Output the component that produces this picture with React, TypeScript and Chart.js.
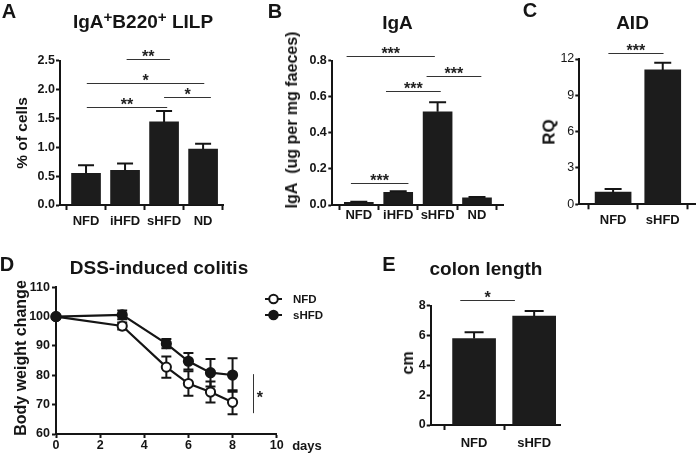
import React, { useEffect, useRef } from 'react';
import { Chart, registerables } from 'chart.js';
Chart.register(...registerables);

const FONT = "'Liberation Sans', Arial, Helvetica, sans-serif";
const INK = '#151515';

// ---------- Panel A: IgA+B220+ LILP ----------
const catsA = ['NFD', 'iHFD', 'sHFD', 'ND'];
const valsA = [0.55, 0.6, 1.44, 0.97];
const errsA = [0.14, 0.12, 0.19, 0.09];
const yTicksA = [0, 0.5, 1.0, 1.5, 2.0, 2.5];
const sigA: [number, number, number, string][] = [
  [2.04, 3.15, 2.525, '**'],
  [1.02, 4.03, 2.12, '*'],
  [3.0, 4.2, 1.87, '*'],
  [1.02, 3.08, 1.7, '**'],
];

// ---------- Panel B: IgA ----------
const catsB = ['NFD', 'iHFD', 'sHFD', 'ND'];
const valsB = [0.015, 0.07, 0.517, 0.04];
const errsB = [0.003, 0.006, 0.052, 0.005];
const yTicksB = [0, 0.2, 0.4, 0.6, 0.8];
const sigB: [number, number, number, string][] = [
  [0.69, 2.93, 0.826, '***'],
  [2.72, 4.11, 0.717, '***'],
  [1.69, 3.08, 0.63, '***'],
  [0.8, 2.26, 0.124, '***'],
];

// ---------- Panel C: AID ----------
const catsC = ['NFD', 'sHFD'];
const valsC = [1.0, 11.1];
const errsC = [0.26, 0.6];
const yTicksC = [0, 3, 6, 9, 12];
const sigC: [number, number, number, string][] = [[0.905, 2.016, 12.5, '***']];

// ---------- Panel D: DSS-induced colitis ----------
const daysD = [0, 3, 5, 6, 7, 8];
const nfdD = [100, 96.8, 82.8, 77.2, 74.3, 70.8];
const nfdErrD = [0, 1.2, 3.6, 4.2, 3.6, 4.1];
const shfdD = [100, 100.6, 90.8, 84.8, 80.9, 80.1];
const shfdErrD = [0, 1.5, 1.6, 2.8, 4.7, 5.7];
const xTicksD = [0, 2, 4, 6, 8, 10];
const yTicksD = [60, 70, 80, 90, 100, 110];
const seriesNamesD = ['NFD', 'sHFD'];
const sigD = { x: 8.94, y1: 80.4, y2: 67.1, starX: 9.24, starY: 73.6, text: '*' };

// ---------- Panel E: colon length ----------
const catsE = ['NFD', 'sHFD'];
const valsE = [5.8, 7.3];
const errsE = [0.42, 0.35];
const yTicksE = [0, 2, 4, 6, 8];
const sigE: [number, number, number, string][] = [[0.77, 1.68, 8.36, '*']];

type Area = { l: number; r: number; t: number; b: number };
type BarSpec = {
  cats: string[]; vals: number[]; errs: number[]; yTicks: number[];
  sig: [number, number, number, string][];
  yMax: number; xMin: number; xMax: number; area: Area;
  barW: number; capW: number; decimals: number; tickWeight: string;
  yPad: number; xPad: number; xh: number;
};

const W = 696, H = 455, YW = 40;
const STAR_FONT = `bold 16px ${FONT}`;

function pad(a: Area, xh: number) {
  return { left: a.l - YW, right: W - a.r, top: a.t, bottom: H - a.b - xh };
}

function makeBar(canvas: HTMLCanvasElement, s: BarSpec) {
  const extras = {
    id: 'extras',
    afterDatasetsDraw(chart: any) {
      const { ctx } = chart;
      const x = chart.scales.x, y = chart.scales.y;
      ctx.save();
      ctx.strokeStyle = INK;
      ctx.lineWidth = 2;
      s.vals.forEach((v, i) => {
        const px = x.getPixelForValue(i + 1);
        const top = y.getPixelForValue(v);
        const e = y.getPixelForValue(v + s.errs[i]);
        ctx.beginPath();
        ctx.moveTo(px, top);
        ctx.lineTo(px, e);
        ctx.moveTo(px - s.capW / 2, e);
        ctx.lineTo(px + s.capW / 2, e);
        ctx.stroke();
      });
      ctx.lineWidth = 1;
      ctx.strokeStyle = '#333';
      ctx.fillStyle = '#222';
      ctx.font = STAR_FONT;
      ctx.textAlign = 'center';
      ctx.textBaseline = 'alphabetic';
      s.sig.forEach(([a, b, yy, t]) => {
        const py = Math.round(y.getPixelForValue(yy)) + 0.5;
        const pa = x.getPixelForValue(a), pb = x.getPixelForValue(b);
        ctx.beginPath();
        ctx.moveTo(pa, py);
        ctx.lineTo(pb, py);
        ctx.stroke();
        ctx.fillText(t, (pa + pb) / 2, py + 2);
      });
      ctx.restore();
    },
  };
  return new Chart(canvas, {
    type: 'bar',
    data: {
      datasets: [{
        data: s.vals.map((v, i) => ({ x: i + 1, y: v })),
        backgroundColor: '#1c1c1c',
        borderWidth: 0,
        barThickness: s.barW,
      } as any],
    },
    options: {
      responsive: false,
      animation: false,
      devicePixelRatio: 1,
      layout: { padding: pad(s.area, s.xh) },
      plugins: { legend: { display: false }, tooltip: { enabled: false } },
      scales: {
        x: {
          type: 'linear', min: s.xMin, max: s.xMax, offset: false,
          afterBuildTicks: (sc: any) => { sc.ticks = s.cats.map((_, i) => ({ value: i + 1 })); },
          afterFit: (sc: any) => { sc.height = s.xh; },
          ticks: {
            autoSkip: false, maxRotation: 0, padding: s.xPad, color: INK,
            font: { family: FONT, size: 13, weight: 'bold' },
            callback: (v: any) => s.cats[Math.round(Number(v)) - 1] ?? '',
          },
          grid: { display: true, drawOnChartArea: false, drawTicks: true, tickLength: 5, tickWidth: 2, tickColor: INK },
          border: { display: true, color: INK, width: 2 },
        },
        y: {
          type: 'linear', min: 0, max: s.yMax,
          afterBuildTicks: (sc: any) => { sc.ticks = s.yTicks.map(v => ({ value: v })); },
          afterFit: (sc: any) => { sc.width = YW; },
          ticks: {
            padding: s.yPad, color: INK,
            font: { family: FONT, size: 12.5, weight: s.tickWeight },
            callback: (v: any) => Number(v).toFixed(s.decimals),
          },
          grid: { display: true, drawOnChartArea: false, drawTicks: true, tickLength: 4, tickWidth: 2, tickColor: INK },
          border: { display: true, color: INK, width: 2 },
        },
      },
    } as any,
    plugins: [extras],
  });
}

function makeLine(canvas: HTMLCanvasElement) {
  const area: Area = { l: 56, r: 276.7, t: 287.3, b: 434 };
  const xh = 21;
  const extras = {
    id: 'extrasD',
    beforeDatasetsDraw(chart: any) {
      const { ctx } = chart;
      const x = chart.scales.x, y = chart.scales.y;
      ctx.save();
      ctx.strokeStyle = INK;
      ctx.lineWidth = 2;
      const draw = (vals: number[], errs: number[]) => {
        vals.forEach((v, i) => {
          if (!errs[i]) return;
          const px = x.getPixelForValue(daysD[i]);
          const a = y.getPixelForValue(v + errs[i]);
          const b = y.getPixelForValue(v - errs[i]);
          ctx.beginPath();
          ctx.moveTo(px, a); ctx.lineTo(px, b);
          ctx.moveTo(px - 5, a); ctx.lineTo(px + 5, a);
          ctx.moveTo(px - 5, b); ctx.lineTo(px + 5, b);
          ctx.stroke();
        });
      };
      draw(nfdD, nfdErrD);
      draw(shfdD, shfdErrD);
      ctx.restore();
    },
    afterDraw(chart: any) {
      const { ctx } = chart;
      const x = chart.scales.x, y = chart.scales.y;
      ctx.save();
      const sx = Math.round(x.getPixelForValue(sigD.x)) + 0.5;
      ctx.strokeStyle = '#333';
      ctx.lineWidth = 1;
      ctx.beginPath();
      ctx.moveTo(sx, y.getPixelForValue(sigD.y1));
      ctx.lineTo(sx, y.getPixelForValue(sigD.y2));
      ctx.stroke();
      ctx.fillStyle = '#222';
      ctx.font = STAR_FONT;
      ctx.textAlign = 'center';
      ctx.textBaseline = 'alphabetic';
      ctx.fillText(sigD.text, x.getPixelForValue(sigD.starX), y.getPixelForValue(sigD.starY) + 9);
      const rows = [299, 315];
      seriesNamesD.forEach((name, i) => {
        const yy = rows[i];
        ctx.strokeStyle = INK;
        ctx.lineWidth = 2;
        ctx.beginPath();
        ctx.moveTo(265, yy); ctx.lineTo(282, yy);
        ctx.stroke();
        ctx.beginPath();
        ctx.arc(273.5, yy, 4.3, 0, Math.PI * 2);
        ctx.fillStyle = i === 0 ? '#fff' : INK;
        ctx.fill();
        ctx.stroke();
        ctx.fillStyle = INK;
        ctx.font = `bold 11.5px ${FONT}`;
        ctx.textAlign = 'left';
        ctx.textBaseline = 'middle';
        ctx.fillText(name, 293, yy + 0.5);
      });
      ctx.restore();
    },
  };
  const common = {
    borderColor: INK, borderWidth: 2.2, pointBorderColor: INK, pointBorderWidth: 2,
    pointRadius: 4.6, tension: 0, clip: false,
  };
  return new Chart(canvas, {
    type: 'line',
    data: {
      datasets: [
        { ...common, label: seriesNamesD[0], data: daysD.map((d, i) => ({ x: d, y: nfdD[i] })), pointBackgroundColor: '#fff', backgroundColor: '#fff', order: 2 },
        { ...common, label: seriesNamesD[1], data: daysD.map((d, i) => ({ x: d, y: shfdD[i] })), pointBackgroundColor: INK, backgroundColor: INK, order: 1 },
      ],
    },
    options: {
      responsive: false,
      animation: false,
      devicePixelRatio: 1,
      layout: { padding: pad(area, xh) },
      plugins: { legend: { display: false }, tooltip: { enabled: false } },
      scales: {
        x: {
          type: 'linear', min: 0, max: 10,
          afterBuildTicks: (sc: any) => { sc.ticks = xTicksD.map(v => ({ value: v })); },
          afterFit: (sc: any) => { sc.height = xh; },
          ticks: { autoSkip: false, maxRotation: 0, padding: 0, color: INK, font: { family: FONT, size: 12.5, weight: 'bold' } },
          grid: { display: true, drawOnChartArea: false, drawTicks: true, tickLength: 4, tickWidth: 2, tickColor: INK },
          border: { display: true, color: INK, width: 2 },
        },
        y: {
          type: 'linear', min: 60, max: 110,
          afterBuildTicks: (sc: any) => { sc.ticks = yTicksD.map(v => ({ value: v })); },
          afterFit: (sc: any) => { sc.width = YW; },
          ticks: { padding: 2, color: INK, font: { family: FONT, size: 12.5, weight: 'bold' } },
          grid: { display: true, drawOnChartArea: false, drawTicks: true, tickLength: 4, tickWidth: 2, tickColor: INK },
          border: { display: true, color: INK, width: 2 },
        },
      },
    } as any,
    plugins: [extras],
  });
}

const specA: BarSpec = {
  cats: catsA, vals: valsA, errs: errsA, yTicks: yTicksA, sig: sigA,
  yMax: 2.5, xMin: 0.333, xMax: 4.51, area: { l: 60, r: 223, t: 60.7, b: 205 },
  barW: 29, capW: 16, decimals: 1, tickWeight: 'bold', yPad: 1, xPad: 4, xh: 40,
};
const specB: BarSpec = {
  cats: catsB, vals: valsB, errs: errsB, yTicks: yTicksB, sig: sigB,
  yMax: 0.8, xMin: 0.327, xMax: 4.66, area: { l: 332.3, r: 503, t: 60.7, b: 205 },
  barW: 29, capW: 17, decimals: 1, tickWeight: 'bold', yPad: 1.5, xPad: -2, xh: 40,
};
const specC: BarSpec = {
  cats: catsC, vals: valsC, errs: errsC, yTicks: yTicksC, sig: sigC,
  yMax: 12, xMin: 0.319, xMax: 2.66, area: { l: 579.3, r: 695.5, t: 59, b: 204.3 },
  barW: 36, capW: 17, decimals: 0, tickWeight: 'normal', yPad: 1, xPad: 3, xh: 40,
};
const specE: BarSpec = {
  cats: catsE, vals: valsE, errs: errsE, yTicks: yTicksE, sig: sigE,
  yMax: 8, xMin: 0.278, xMax: 2.43, area: { l: 430.7, r: 560, t: 305.7, b: 425 },
  barW: 43, capW: 19, decimals: 0, tickWeight: 'bold', yPad: 1, xPad: 6, xh: 30,
};

const textBase: React.CSSProperties = {
  position: 'absolute', whiteSpace: 'nowrap', lineHeight: 1, fontWeight: 'bold', color: INK,
  fontFamily: FONT,
};

function T({ x, y, size, rot, children }: { x: number; y: number; size: number; rot?: boolean; children: React.ReactNode }) {
  return (
    <div style={{ ...textBase, left: x, top: y, fontSize: size, transform: `translate(-50%,-50%)${rot ? ' rotate(-90deg)' : ''}` }}>
      {children}
    </div>
  );
}

const sup: React.CSSProperties = { fontSize: '0.8em', position: 'relative', top: '-0.42em' };

export default function App() {
  const a = useRef<HTMLCanvasElement>(null);
  const b = useRef<HTMLCanvasElement>(null);
  const c = useRef<HTMLCanvasElement>(null);
  const d = useRef<HTMLCanvasElement>(null);
  const e = useRef<HTMLCanvasElement>(null);
  useEffect(() => {
    const charts = [
      makeBar(a.current!, specA),
      makeBar(b.current!, specB),
      makeBar(c.current!, specC),
      makeLine(d.current!),
      makeBar(e.current!, specE),
    ];
    return () => charts.forEach(ch => ch.destroy());
  }, []);
  const cv: React.CSSProperties = { position: 'absolute', left: 0, top: 0, width: W, height: H };
  return (
    <div style={{ position: 'fixed', left: 0, top: 0, width: W, height: H, background: '#fff', overflow: 'hidden' }}>
      <canvas ref={a} width={W} height={H} style={cv} />
      <canvas ref={b} width={W} height={H} style={cv} />
      <canvas ref={c} width={W} height={H} style={cv} />
      <canvas ref={d} width={W} height={H} style={cv} />
      <canvas ref={e} width={W} height={H} style={cv} />

      <T x={9} y={11} size={20}>A</T>
      <T x={275} y={11} size={20}>B</T>
      <T x={530} y={10} size={20}>C</T>
      <T x={7} y={264} size={20}>D</T>
      <T x={389} y={264} size={20}>E</T>

      <T x={143} y={21} size={19}>IgA<span style={sup}>+</span>B220<span style={sup}>+</span> LILP</T>
      <T x={397.5} y={21.5} size={19}>IgA</T>
      <T x={632.5} y={21.5} size={19}>AID</T>
      <T x={159} y={266.5} size={19}>DSS-induced colitis</T>
      <T x={486} y={268} size={19}>colon length</T>

      <T x={22} y={133} size={15.5} rot>% of cells</T>
      <T x={292} y={120} size={16} rot>IgA&nbsp;&nbsp;(ug per mg faeces)</T>
      <T x={549} y={131.5} size={17} rot>RQ</T>
      <T x={21} y={358} size={16} rot>Body weight change</T>
      <T x={407.5} y={363} size={16} rot>cm</T>

      <T x={307} y={445} size={13}>days</T>
    </div>
  );
}
